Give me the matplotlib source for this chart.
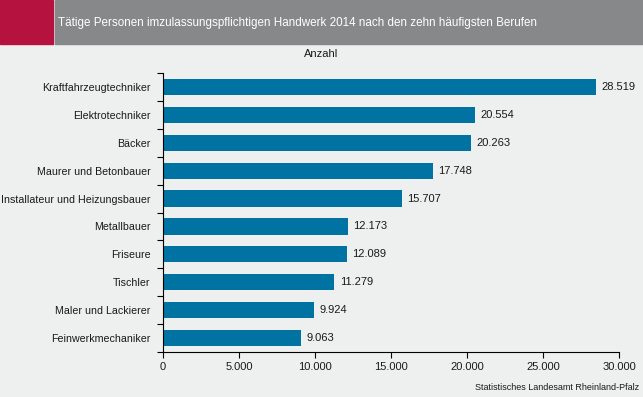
"""
plot.py

Tätige Personen im zulassungspflichtigen Handwerk 2014 (Rheinland-Pfalz),
horizontal bar chart of the ten most frequent trades.
"""

import matplotlib
matplotlib.use("Agg")
import matplotlib.pyplot as plt
from matplotlib.patches import Rectangle

TITLE = "Tätige Personen imzulassungspflichtigen Handwerk 2014 nach den zehn häufigsten Berufen"
SOURCE = "Statistisches Landesamt Rheinland-Pfalz"

berufe = ["Kraftfahrzeugtechniker", "Elektrotechniker", "Bäcker",
          "Maurer und Betonbauer", "Installateur und Heizungsbauer",
          "Metallbauer", "Friseure", "Tischler", "Maler und Lackierer",
          "Feinwerkmechaniker"]
anzahl = [28519, 20554, 20263, 17748, 15707, 12173, 12089, 11279, 9924, 9063]

xticks = [0, 5000, 10000, 15000, 20000, 25000, 30000]

BG = "#eeefef"
BAR = "#0073a3"
RED = "#b5123f"
HEAD = "#87888a"


def fmt(v):
    ''' German thousands separator '''
    return "{:,}".format(v).replace(",", ".")


def main():
    plt.rcParams['font.family'] = ['Liberation Sans', 'DejaVu Sans']

    fig = plt.figure(figsize=(6.43, 3.97), dpi=100, facecolor=BG)

    # header: red block + gray title bar
    fig.patches.append(Rectangle((0, 1 - 44 / 397), 53 / 643, 44 / 397,
                                 transform=fig.transFigure, color=RED, zorder=0))
    fig.patches.append(Rectangle((55 / 643, 1 - 44 / 397), 1, 44 / 397,
                                 transform=fig.transFigure, color=HEAD, zorder=0))
    fig.text(58 / 643, 1 - 23 / 397, TITLE, color="white", fontsize=8.4,
             va="center", ha="left")

    ax = fig.add_axes([163 / 643, 45 / 397, 456 / 643, 279 / 397])
    ax.set_facecolor(BG)

    pos = list(range(len(berufe)))
    ax.barh(pos, anzahl, height=0.58, color=BAR, zorder=2)
    for p, v in zip(pos, anzahl):
        ax.text(v + 350, p, fmt(v), va="center", ha="left", fontsize=8,
                color="#1a1a1a")

    ax.set_xlim(0, 30000)
    ax.set_ylim(len(berufe) - 0.5, -0.5)
    ax.set_xticks(xticks)
    ax.set_xticklabels([fmt(t) for t in xticks], fontsize=8, color="#1a1a1a")
    ax.set_yticks(pos)
    ax.set_yticklabels(berufe, fontsize=7.7, color="#1a1a1a")
    ax.tick_params(axis="y", length=0, pad=9)
    ax.tick_params(axis="x", length=4, width=0.8, direction="out", pad=3)

    # category boundary ticks on the left spine
    ax.set_yticks([i - 0.5 for i in range(len(berufe) + 1)], minor=True)
    ax.tick_params(axis="y", which="minor", length=4, width=0.8,
                   direction="out")

    for s in ["top", "right"]:
        ax.spines[s].set_visible(False)
    ax.spines["left"].set_linewidth(0.8)
    ax.spines["bottom"].set_linewidth(0.8)

    fig.text(0.5, 1 - 54 / 397, "Anzahl", ha="center", va="center",
             fontsize=8, color="#1a1a1a")
    fig.text(639 / 643, 1 - 388 / 397, SOURCE, ha="right", va="center",
             fontsize=6.5, color="#1a1a1a")

    fig.savefig("out.png", dpi=100, facecolor=BG)


if __name__ == '__main__':
    main()
